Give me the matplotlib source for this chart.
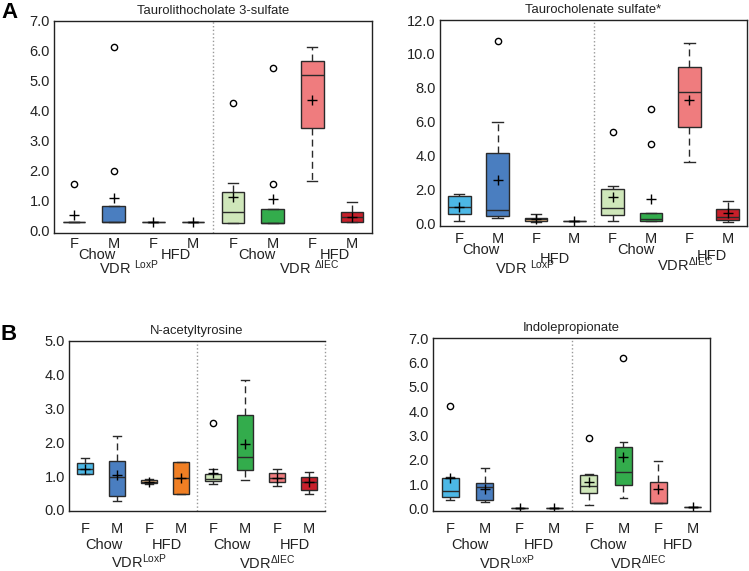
import matplotlib
matplotlib.use("Agg")
import matplotlib.pyplot as plt

plt.rcParams['font.family'] = ['Liberation Sans', 'DejaVu Sans']
plt.rcParams['mathtext.fontset'] = 'custom'
plt.rcParams['mathtext.rm'] = 'Liberation Sans'
plt.rcParams['mathtext.it'] = 'Liberation Sans:italic'
plt.rcParams['mathtext.bf'] = 'Liberation Sans:bold'

# ---------------- data ----------------
sexes = ["F", "M", "F", "M", "F", "M", "F", "M"]
diets = ["Chow", "HFD", "Chow", "HFD"]
genotypes = ["LoxP", "ΔIEC"]
colors = ["#4CB8E6", "#4A7EC0", "#F5C28C", "#F07F24",
          "#CFE7BA", "#33AC4C", "#EF7C7E", "#C81F2A"]

# Taurolithocholate 3-sulfate
tl_q1 = [0.28, 0.28, 0.28, 0.28, 0.25, 0.25, 3.43, 0.27]
tl_med = [0.28, 0.28, 0.28, 0.28, 0.61, 0.25, 5.20, 0.45]
tl_q3 = [0.28, 0.79, 0.28, 0.28, 1.26, 0.70, 5.66, 0.59]
tl_lo = [0.28, 0.28, 0.28, 0.28, 0.25, 0.25, 1.65, 0.27]
tl_hi = [0.28, 0.79, 0.28, 0.28, 1.58, 0.70, 6.13, 0.93]
tl_mean = [0.50, 1.08, 0.28, 0.28, 1.09, 1.03, 4.35, 0.45]
tl_fliers = [[1.55], [1.97, 6.13], [], [], [4.24], [1.55, 5.44], [], []]

# Taurocholenate sulfate*
tc_q1 = [0.53, 0.43, 0.12, 0.12, 0.49, 0.14, 5.69, 0.20]
tc_med = [0.98, 0.80, 0.24, 0.12, 0.94, 0.29, 7.78, 0.39]
tc_q3 = [1.59, 4.16, 0.35, 0.12, 2.06, 0.59, 9.22, 0.88]
tc_lo = [0.16, 0.33, 0.10, 0.12, 0.14, 0.14, 3.61, 0.10]
tc_hi = [1.71, 5.96, 0.53, 0.12, 2.22, 0.59, 10.65, 1.33]
tc_mean = [1.00, 2.55, 0.25, 0.12, 1.57, 1.47, 7.31, 0.59]
tc_fliers = [[], [10.76], [], [], [5.39], [4.71, 6.75], [], []]

# N-acetyltyrosine
na_q1 = [1.05, 0.42, 0.79, 0.46, 0.86, 1.18, 0.83, 0.60]
na_med = [1.20, 0.99, 0.84, 0.95, 0.91, 1.56, 0.96, 0.83]
na_q3 = [1.38, 1.44, 0.89, 1.43, 1.07, 2.81, 1.08, 0.98]
na_lo = [1.05, 0.28, 0.76, 0.46, 0.78, 0.89, 0.71, 0.46]
na_hi = [1.53, 2.20, 0.91, 1.43, 1.22, 3.84, 1.22, 1.11]
na_mean = [1.21, 1.04, 0.84, 0.94, 1.10, 1.95, 0.96, 0.82]
na_fliers = [[], [], [], [], [2.57], [], [], []]

# Indolepropionate
ip_q1 = [0.46, 0.35, 0.03, 0.03, 0.65, 0.96, 0.22, 0.08]
ip_med = [0.72, 0.88, 0.03, 0.03, 0.94, 1.52, 0.22, 0.08]
ip_q3 = [1.26, 1.05, 0.03, 0.03, 1.37, 2.51, 1.10, 0.08]
ip_lo = [0.35, 0.26, 0.03, 0.03, 0.15, 0.45, 0.22, 0.08]
ip_hi = [1.30, 1.68, 0.03, 0.03, 1.41, 2.73, 1.94, 0.08]
ip_mean = [1.26, 0.82, 0.03, 0.03, 1.11, 2.11, 0.79, 0.08]
ip_fliers = [[4.21], [], [], [], [2.88], [6.18], [], []]

titles = ["Taurolithocholate 3-sulfate", "Taurocholenate sulfate*",
          "N-acetyltyrosine", "Indolepropionate"]
yticks_list = [[0, 1, 2, 3, 4, 5, 6, 7], [0, 2, 4, 6, 8, 10, 12],
               [0, 1, 2, 3, 4, 5], [0, 1, 2, 3, 4, 5, 6, 7]]
ylims = [(-0.1, 7.0), (-0.15, 12.0), (-0.03, 5.0), (-0.1, 7.0)]

panels = [
    (tl_q1, tl_med, tl_q3, tl_lo, tl_hi, tl_mean, tl_fliers),
    (tc_q1, tc_med, tc_q3, tc_lo, tc_hi, tc_mean, tc_fliers),
    (na_q1, na_med, na_q3, na_lo, na_hi, na_mean, na_fliers),
    (ip_q1, ip_med, ip_q3, ip_lo, ip_hi, ip_mean, ip_fliers),
]

# ---------------- layout ----------------
W, H = 749, 571
PT = 0.72  # points per pixel at 100 dpi
fig = plt.figure(figsize=(W / 100, H / 100), dpi=100)

# axes rectangles in pixels: left, top, right, bottom
rects_px = [(54, 21, 372, 233), (440, 20, 747, 226),
            (69, 341, 325, 511), (433, 338, 710, 511)]
box_widths = [0.57, 0.59, 0.5, 0.49]
# baseline distances (px) below the x axis for diet labels and genotype labels
diet_dy = [[26, 26, 26, 26], [28, 37, 28, 34], [38, 38, 38, 38], [38, 38, 38, 38]]
diet_dx = [[3, 3, 4, 3], [3, 0, 4, 3], [3, 2, 3, 2], [2, 2, 2, 2]]
geno_dy = [[41, 41], [48, 45], [57, 58], [58, 58]]
geno_dx = [[-5, 17], [8, 15], [6, 6], [5, -3]]
geno_sep = [[True, True], [True, False], [False, False], [False, False]]
fm_pad = [3, 4, 8, 8]

positions = list(range(1, 9))

for i, (rect, data) in enumerate(zip(rects_px, panels)):
    l, t, r, b = rect
    ax = fig.add_axes([l / W, 1 - b / H, (r - l) / W, (b - t) / H])
    q1, med, q3, lo, hi, mean, fl = data
    stats = []
    for k in range(8):
        stats.append(dict(q1=q1[k], med=med[k], q3=q3[k], whislo=lo[k],
                          whishi=hi[k], mean=mean[k], fliers=fl[k]))
    bw = box_widths[i]
    bp = ax.bxp(stats, positions=positions, widths=bw, capwidths=bw * 0.45,
                patch_artist=True, showmeans=True, showfliers=True,
                boxprops=dict(edgecolor='#2a2a2a', linewidth=1.0),
                medianprops=dict(color='#2a2a2a', linewidth=1.0),
                whiskerprops=dict(color='#2a2a2a', linewidth=1.0,
                                  linestyle=(0, (5, 3))),
                capprops=dict(color='#2a2a2a', linewidth=1.0),
                meanprops=dict(marker='+', markeredgecolor='black',
                               markersize=7, markeredgewidth=1.0),
                flierprops=dict(marker='o', markerfacecolor='none',
                                markeredgecolor='black', markersize=4.5,
                                markeredgewidth=1.0))
    for patch, c in zip(bp['boxes'], colors):
        patch.set_facecolor(c)

    ax.axvline(4.5, color='#999999', linestyle=':', linewidth=1.0)
    ax.set_xlim(0.5, 8.5)
    ax.set_ylim(*ylims[i])
    ax.set_yticks(yticks_list[i])
    ax.set_yticklabels([f"{v:.1f}" for v in yticks_list[i]])
    ax.set_xticks(positions)
    ax.set_xticklabels(sexes)
    ax.tick_params(axis='both', length=0, labelsize=10.5, colors='#222222')
    ax.tick_params(axis='y', pad=3)
    ax.tick_params(axis='x', pad=fm_pad[i])
    ax.set_title(titles[i], fontsize=9.4, pad=5, color='#222222')
    for s in ax.spines.values():
        s.set_linewidth(1.0)
        s.set_color('#222222')
    if i == 2:
        ax.spines['right'].set_visible(False)
        ax.axvline(8.5, color='#999999', linestyle=':', linewidth=1.0,
                   clip_on=False)

    for j, diet in enumerate(diets):
        xc = 1.5 + 2 * j
        ax.annotate(diet, xy=(xc, 0), xycoords=('data', 'axes fraction'),
                    xytext=(diet_dx[i][j] * PT, -diet_dy[i][j] * PT),
                    textcoords='offset points',
                    ha='center', va='baseline', fontsize=10.5,
                    color='#222222', annotation_clip=False)
    for j, g in enumerate(genotypes):
        xc = 2.5 + 4 * j
        sep = r'\ ' if geno_sep[i][j] else ''
        ax.annotate(r'VDR$' + sep + r'^{\mathrm{' + g + '}}$', xy=(xc, 0),
                    xycoords=('data', 'axes fraction'),
                    xytext=(geno_dx[i][j] * PT, -geno_dy[i][j] * PT),
                    textcoords='offset points',
                    ha='center', va='baseline', fontsize=10.5,
                    color='#222222', annotation_clip=False)

fig.text(1 / W, 1 - 2 / H, "A", fontsize=16, fontweight='bold', va='top',
         ha='left')
fig.text(1 / W, 1 - 324 / H, "B", fontsize=16, fontweight='bold', va='top',
         ha='left')

fig.savefig("out.png", dpi=100)
